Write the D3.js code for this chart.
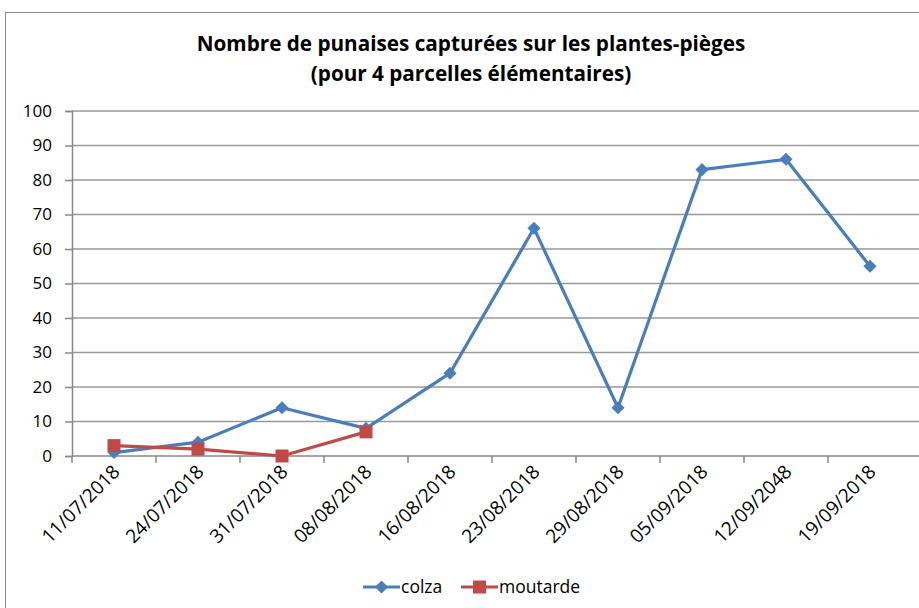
<!DOCTYPE html>
<html>
<head>
<meta charset="utf-8">
<script src="https://cdn.jsdelivr.net/npm/d3@7"></script>
<style>
  body { margin: 0; background: #fff; }
  text { font-family: "Open Sans", sans-serif; fill: #000; }
</style>
</head>
<body>
<div id="chart"></div>
<script>
let dates = ["11/07/2018", "24/07/2018", "31/07/2018", "08/08/2018", "16/08/2018",
             "23/08/2018", "29/08/2018", "05/09/2018", "12/09/2048", "19/09/2018"];
let colza = [1, 4, 14, 8, 24, 66, 14, 83, 86, 55];
let moutarde = [3, 2, 0, 7];
let yTicks = [0, 10, 20, 30, 40, 50, 60, 70, 80, 90, 100];
let titleLines = ["Nombre de punaises capturées sur les plantes-pièges", "(pour 4 parcelles élémentaires)"];

let width = 919, height = 608;
let svg = d3.select("#chart").append("svg")
    .attr("width", width)
    .attr("height", height);

// outer frame
svg.append("rect")
    .attr("x", 5.5).attr("y", 12.5)
    .attr("width", 930).attr("height", 620)
    .attr("fill", "none")
    .attr("stroke", "#8a8a8a")
    .attr("stroke-width", 1);

// title
svg.selectAll(".title")
    .data(titleLines)
    .enter().append("text")
    .attr("class", "title")
    .attr("x", 471)
    .attr("y", function(d, i) { return 51 + i * 30; })
    .attr("text-anchor", "middle")
    .style("font-size", "20.7px")
    .style("font-weight", "bold")
    .text(function(d) { return d; });

let x = d3.scaleBand()
    .domain(dates)
    .range([72, 912]);

let y = d3.scaleLinear()
    .domain([0, 100])
    .range([456, 111]);

// gridlines
svg.append("g")
    .selectAll("line")
    .data(yTicks.slice(1))
    .enter().append("line")
    .attr("x1", 72).attr("x2", 919)
    .attr("y1", function(d) { return y(d); })
    .attr("y2", function(d) { return y(d); })
    .style("stroke", "#999")
    .style("stroke-width", 1.5);

// Y axis
let yAxis = svg.append("g")
    .attr("transform", "translate(72, 0)")
    .call(d3.axisLeft(y).tickValues(yTicks).tickSize(7).tickPadding(13));
yAxis.selectAll("text").style("font-size", "17px").style("font-family", "Open Sans, sans-serif").attr("fill", "#000");
yAxis.selectAll("line, path").style("stroke", "#888").style("stroke-width", 1.5);

// category separator ticks
svg.append("g")
    .selectAll("line")
    .data(dates)
    .enter().append("line")
    .attr("x1", function(d) { return x(d); })
    .attr("x2", function(d) { return x(d); })
    .attr("y1", 456).attr("y2", 463)
    .style("stroke", "#888")
    .style("stroke-width", 1.5);

svg.append("line")
    .attr("x1", 72).attr("x2", 919)
    .attr("y1", y(0)).attr("y2", y(0))
    .style("stroke", "#888")
    .style("stroke-width", 1.5);

// rotated date labels
svg.append("g")
    .selectAll("text")
    .data(dates)
    .enter().append("text")
    .attr("transform", function(d) {
        return "translate(" + (x(d) + x.bandwidth() / 2 + 7) + ", 473) rotate(-45)";
    })
    .attr("text-anchor", "end")
    .style("font-size", "19px")
    .text(function(d) { return d; });

let cx = function(d, i) { return x(dates[i]) + x.bandwidth() / 2; };

let line = d3.line()
    .x(function(d, i) { return cx(d, i); })
    .y(function(d) { return y(d); });

// colza
svg.append("path")
    .datum(colza)
    .attr("fill", "none")
    .attr("stroke", "#4A7EBB")
    .attr("stroke-width", 3.2)
    .attr("stroke-linejoin", "round")
    .attr("d", line);

svg.append("g")
    .selectAll("path")
    .data(colza)
    .enter().append("path")
    .attr("transform", function(d, i) { return "translate(" + cx(d, i) + "," + y(d) + ")"; })
    .attr("d", d3.symbol().type(d3.symbolDiamond2).size(110))
    .attr("fill", "#4A7EBB");

// moutarde
svg.append("path")
    .datum(moutarde)
    .attr("fill", "none")
    .attr("stroke", "#BE4B48")
    .attr("stroke-width", 3.2)
    .attr("d", line);

svg.append("g")
    .selectAll("rect")
    .data(moutarde)
    .enter().append("rect")
    .attr("x", function(d, i) { return cx(d, i) - 6.5; })
    .attr("y", function(d) { return y(d) - 6.5; })
    .attr("width", 13).attr("height", 13)
    .attr("fill", "#BE4B48");

// legend
let legend = svg.append("g").attr("transform", "translate(0, 587)");
let items = [
    { name: "colza", color: "#4A7EBB", x: 363 },
    { name: "moutarde", color: "#BE4B48", x: 461 }
];
items.forEach(function(it, k) {
    legend.append("line")
        .attr("x1", it.x).attr("x2", it.x + 37)
        .attr("y1", 0).attr("y2", 0)
        .attr("stroke", it.color).attr("stroke-width", 3.2);
    if (k === 0) {
        legend.append("path")
            .attr("transform", "translate(" + (it.x + 18.5) + ",0)")
            .attr("d", d3.symbol().type(d3.symbolDiamond2).size(110))
            .attr("fill", it.color);
    } else {
        legend.append("rect")
            .attr("x", it.x + 12).attr("y", -6.5)
            .attr("width", 13).attr("height", 13)
            .attr("fill", it.color);
    }
    legend.append("text")
        .attr("x", it.x + 38).attr("y", 6)
        .style("font-size", "17.5px")
        .text(it.name);
});
</script>
</body>
</html>
